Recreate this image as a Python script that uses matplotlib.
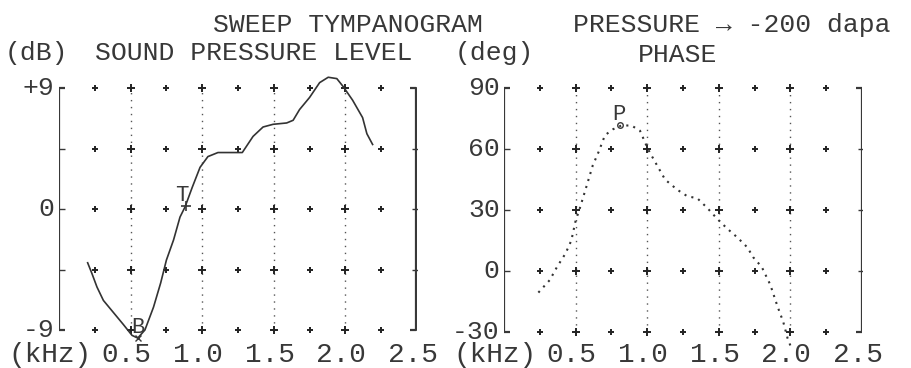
import matplotlib
matplotlib.use('Agg')

import matplotlib.pyplot as plt
import matplotlib.transforms as mtransforms

# sound pressure level curve (kHz, dB)
spl_khz = [0.20, 0.23, 0.265, 0.31, 0.38, 0.45, 0.51, 0.55, 0.60, 0.66, 0.71, 0.75, 0.80,
           0.845, 0.88, 0.93, 0.985, 1.04, 1.11, 1.28, 1.355, 1.425, 1.495, 1.59, 1.635,
           1.68, 1.75, 1.82, 1.88, 1.94, 1.985, 2.05, 2.12, 2.15, 2.19]
spl_db = [-4.0, -4.8, -5.8, -6.8, -7.7, -8.6, -9.4, -9.6, -9.0, -7.3, -5.5, -3.8, -2.3,
          -0.6, 0.15, 1.6, 3.1, 3.9, 4.2, 4.2, 5.4, 6.1, 6.3, 6.4, 6.6,
          7.4, 8.3, 9.4, 9.8, 9.7, 9.1, 8.1, 6.8, 5.6, 4.8]

# phase curve (kHz, deg)
phase_khz = [0.24, 0.32, 0.37, 0.43, 0.47, 0.50, 0.53, 0.58, 0.62, 0.66, 0.705, 0.76, 0.82,
             0.89, 0.95, 1.005, 1.055, 1.125, 1.21, 1.28, 1.35, 1.42, 1.49, 1.56, 1.63,
             1.70, 1.74, 1.80, 1.86, 1.91, 1.95, 1.98, 2.0]
phase_deg = [-10.6, -4.4, 2, 8.7, 15, 24.7, 31, 42.6, 52, 58.5, 66.8, 69.7, 71.6,
             71.6, 69, 60, 53.7, 45, 40, 36.8, 35.8, 31, 25.6, 20.8, 16.5,
             11.6, 6.8, 2, -6.8, -17.4, -25, -33, -36.7]

freq_ticks = [0.5, 1.0, 1.5, 2.0, 2.5]
freq_labels = ['0.5', '1.0', '1.5', '2.0', '2.5']
grid_cols = [0.25, 0.5, 0.75, 1.0, 1.25, 1.5, 1.75, 2.0, 2.25]
spl_rows = [-9, -4.5, 0, 4.5, 9]
spl_labels = {9: '+9', 0: '0', -9: '-9'}
phase_rows = [-30, 0, 30, 60, 90]
phase_labels = {90: '90', 60: '60', 30: '30', 0: '0', -30: '-30'}

W, H = 912, 368
ink = '#383838'
font = ['Liberation Mono', 'DejaVu Sans Mono']
fs = 19

fig = plt.figure(figsize=(W / 100, H / 100), dpi=100)
fig.patch.set_facecolor('white')


def fx(px):
    return px / W


def fy(py):
    return 1 - py / H


def panel(left_px, right_bracket, rows, ylim, labels):
    ax = fig.add_axes([fx(left_px), fy(355), 358 / W, 285 / H])
    ax.set_xlim(0, 2.5)
    ax.set_ylim(*ylim)
    ax.axis('off')
    lo, hi = rows[0], rows[-1]
    hook = 0.04
    # left axis bracket
    ax.plot([hook, 0, 0, hook], [hi, hi, lo, lo], color=ink, lw=1.6, solid_capstyle='butt')
    # right bracket
    rb = right_bracket
    ax.plot([rb - hook, rb, rb, rb - hook], [hi, hi, lo, lo], color=ink, lw=1.6,
            solid_capstyle='butt')
    for r in rows[1:-1]:
        ax.plot([0], [r], marker=1, ms=4, color=ink, mew=1)
        ax.plot([rb], [r], marker='_', ms=6, color=ink, mew=1)
    # dotted columns
    for c in [0.5, 1.0, 1.5, 2.0]:
        ax.plot([c, c], [lo, hi], color='#555555', lw=1.0, ls=(0, (1, 4)))
    # grid dots
    for c in grid_cols:
        for r in rows:
            big = c in (0.5, 1.0, 1.5, 2.0)
            ax.plot([c], [r], marker='+', ms=6 if big else 4, mew=1.4, color='#222222')
    for r, lab in labels.items():
        ax.text(-0.03, r, lab, ha='right', va='center', fontsize=fs, family=font, color=ink)
    tr = mtransforms.blended_transform_factory(ax.transData, fig.transFigure)
    for t, lab in zip(freq_ticks, freq_labels):
        ax.text(t - 0.03, fy(355), lab, ha='center', va='center', fontsize=fs + 1,
                family=font, color=ink, transform=tr)
    return ax


ax1 = panel(59, 2.49, spl_rows, (-10.86, 10.34), spl_labels)
ax1.plot(spl_khz, spl_db, color='#333333', lw=1.2)
ax1.text(0.55, -8.8, 'B', ha='center', va='center', fontsize=16, family=font, color=ink)
ax1.plot([0.55], [-9.6], marker='x', ms=4, mew=1, color=ink)
ax1.text(0.86, 1.0, 'T', ha='center', va='center', fontsize=16, family=font, color=ink)
ax1.plot([0.885], [0.2], marker='+', ms=7, mew=1.2, color=ink)

ax2 = panel(504, 2.5, phase_rows, (-41.3, 98.9), phase_labels)
ax2.plot(phase_khz, phase_deg, color='#333333', lw=1.5, ls=(0, (1, 2.5)))
ax2.text(0.80, 77, 'P', ha='center', va='center', fontsize=16, family=font, color=ink)
ax2.plot([0.81], [71.6], marker='o', ms=4, mfc='none', mew=1, color=ink)

# headers
fig.text(fx(213), fy(25), 'SWEEP TYMPANOGRAM', ha='left', va='center', fontsize=fs,
         family=font, color=ink)
fig.text(fx(573), fy(25), 'PRESSURE \u2192 -200 dapa', ha='left', va='center', fontsize=fs,
         family=font, color=ink)
fig.text(fx(5), fy(53), '(dB)', ha='left', va='center', fontsize=fs, family=font, color=ink)
fig.text(fx(95), fy(53), 'SOUND PRESSURE LEVEL', ha='left', va='center', fontsize=fs,
         family=font, color=ink)
fig.text(fx(455), fy(53), '(deg)', ha='left', va='center', fontsize=fs, family=font, color=ink)
fig.text(fx(678), fy(55), 'PHASE', ha='center', va='center', fontsize=fs, family=font, color=ink)
fig.text(fx(8), fy(355), '(kHz)', ha='left', va='center', fontsize=fs + 1, family=font, color=ink)
fig.text(fx(453), fy(355), '(kHz)', ha='left', va='center', fontsize=fs + 1, family=font, color=ink)

plt.savefig('out.png', dpi=100)
